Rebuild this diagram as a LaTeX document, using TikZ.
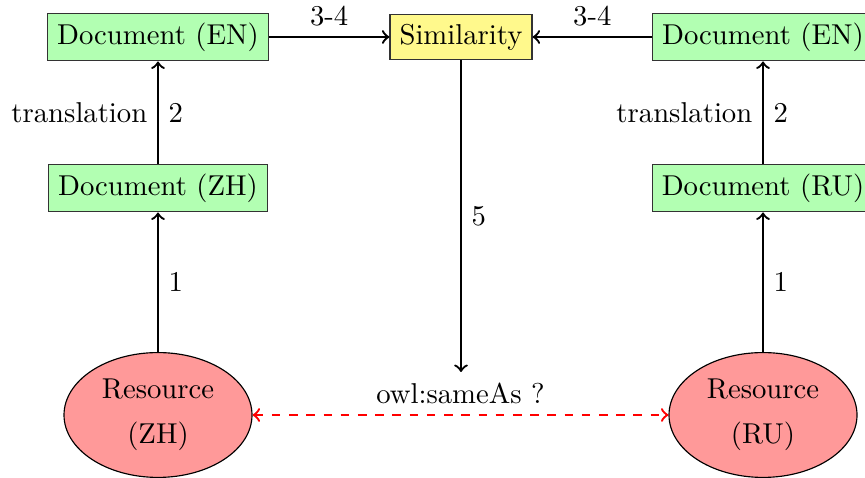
\documentclass[tikz,border=0pt]{standalone}
\usetikzlibrary{shapes.geometric}
\begin{document}
\begin{tikzpicture}[x=0.3484pt,y=-0.3484pt,
  docbox/.style={draw=black!80, fill=green!30, rectangle, inner sep=3.33pt},
  simbox/.style={draw=black!80, fill=yellow!45, rectangle, inner sep=3.33pt},
  resnode/.style={draw=black, fill=red!40, ellipse, minimum width=65.5pt, minimum height=43.5pt, align=center, inner sep=0pt},
  conn/.style={->, thick},
  eqconn/.style={<->, thick, dashed, red}]
\useasboundingbox (0,0) rectangle (865,478);
\node[docbox] (enl) at (158,37) {Document (EN)};
\node[simbox] (sim) at (461,37) {Similarity};
\node[docbox] (enr) at (763,37) {Document (EN)};
\node[docbox] (zh) at (158,188) {Document (ZH)};
\node[docbox] (ru) at (763,188) {Document (RU)};
\node[resnode] (rzh) at (158,415) {Resource\\[3.5pt](ZH)};
\node[resnode] (rru) at (763,415) {Resource\\[3.5pt](RU)};
\coordinate (simend) at (461,372);
\draw[conn] (zh) -- node[left] {translation} node[right] {2} (enl);
\draw[conn] (ru) -- node[left] {translation} node[right] {2} (enr);
\draw[conn] (rzh) -- node[right] {1} (zh);
\draw[conn] (rru) -- node[right] {1} (ru);
\draw[conn] (enl) -- node[above] {3-4} (sim);
\draw[conn] (enr) -- node[above] {3-4} (sim);
\draw[conn] (sim) -- node[right] {5} (simend);
\draw[eqconn] (rzh) -- node[above, text=black] {owl:sameAs ?} (rru);
\end{tikzpicture}
\end{document}
